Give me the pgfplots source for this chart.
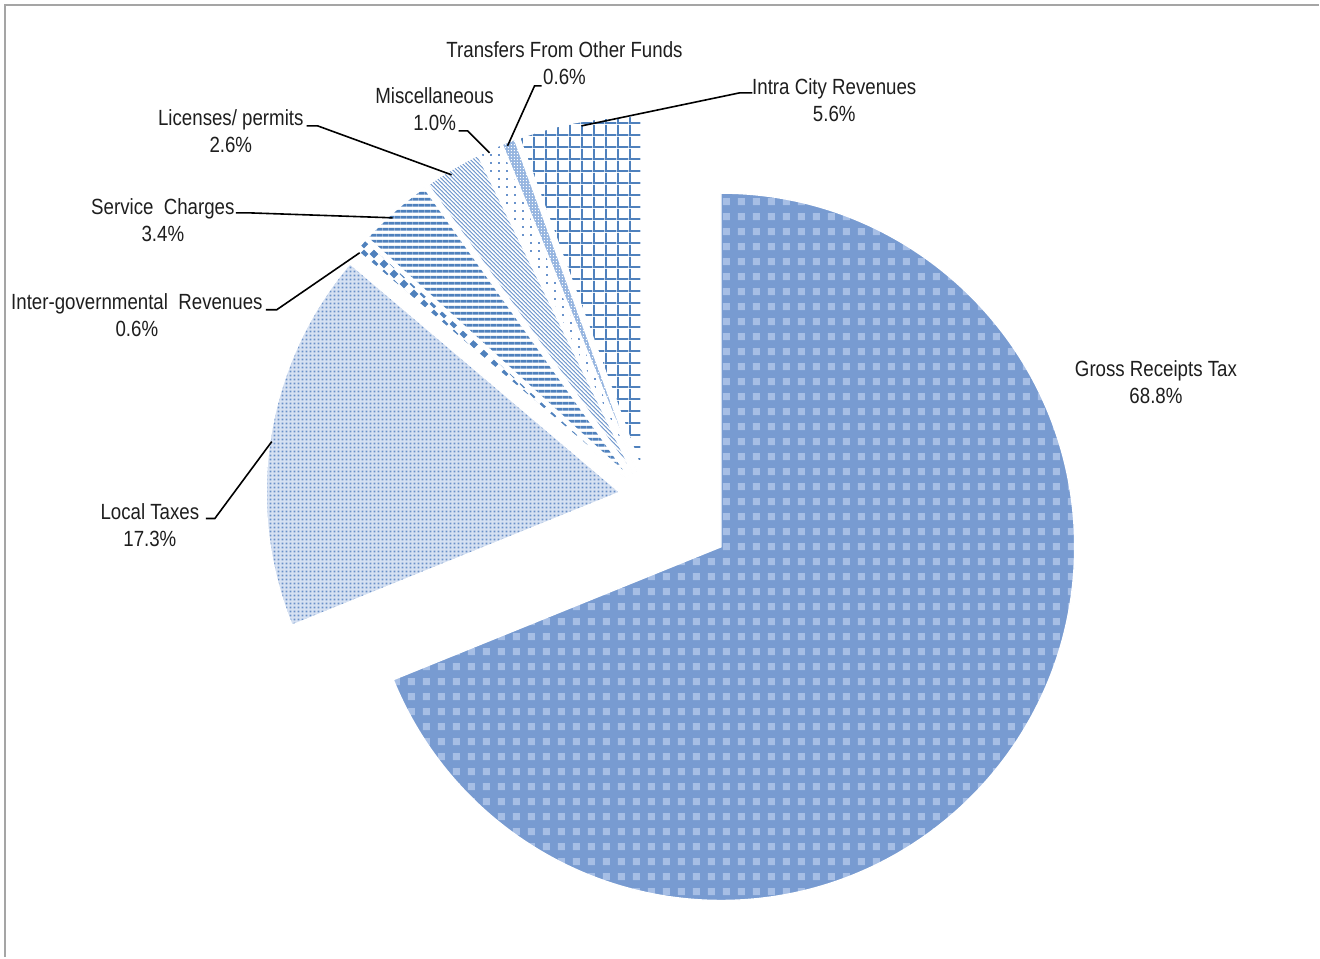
\documentclass[border=0pt]{standalone}
\usepackage{pgfplots}
\pgfplotsset{compat=1.18}
\usepackage{pgfplotstable}
\usepackage{fontspec}
\setmainfont{Liberation Sans}[FakeStretch=0.85]
\usetikzlibrary{patterns.meta}

\definecolor{xblue}{RGB}{79,129,189}
\definecolor{grossbg}{RGB}{120,155,209}
\definecolor{grosslt}{RGB}{166,190,229}
\definecolor{localbg}{RGB}{214,225,242}
\definecolor{localdot}{RGB}{105,144,200}
\definecolor{transbg}{RGB}{150,181,224}
\definecolor{licline}{RGB}{105,146,203}
\definecolor{txt}{RGB}{30,30,30}
\definecolor{frame}{RGB}{165,165,165}

\tikzdeclarepattern{name=grosssq, type=uncolored,
  bounding box={(0,0) and (7.5pt,7.5pt)}, tile size={(7.5pt,7.5pt)},
  code={\fill (2pt,2pt) rectangle (5.5pt,5.5pt);}}
\tikzdeclarepattern{name=localdots, type=uncolored,
  bounding box={(0,0) and (2.2pt,2.2pt)}, tile size={(2.2pt,2.2pt)},
  code={\fill (0.4pt,0.4pt) rectangle (1.4pt,1.4pt);}}
\tikzdeclarepattern{name=diamonds, type=uncolored,
  bounding box={(0,0) and (5pt,5pt)}, tile size={(5pt,5pt)},
  code={\fill (2.5pt,0.3pt) -- (4.7pt,2.5pt) -- (2.5pt,4.7pt) -- (0.3pt,2.5pt) -- cycle;}}
\tikzdeclarepattern{name=hstripes, type=uncolored,
  bounding box={(0,0) and (2.9pt,2.9pt)}, tile size={(2.9pt,2.9pt)},
  code={\fill (0,0.7pt) rectangle (2.9pt,2.1pt);}}
\tikzdeclarepattern{name=dlines, type=uncolored,
  bounding box={(0,0) and (2.2pt,2.2pt)}, tile size={(2.2pt,2.2pt)},
  code={\draw[line width=0.5pt] (-1.1pt,1.1pt) -- (1.1pt,-1.1pt)
        (0,2.2pt) -- (2.2pt,0) (1.1pt,3.3pt) -- (3.3pt,1.1pt);}}
\tikzdeclarepattern{name=sparsedots, type=uncolored,
  bounding box={(0,0) and (4pt,4pt)}, tile size={(4pt,4pt)},
  code={\fill (1.6pt,1.6pt) rectangle (2.4pt,2.4pt);}}
\tikzdeclarepattern{name=finedots, type=uncolored,
  bounding box={(0,0) and (1.6pt,1.6pt)}, tile size={(1.6pt,1.6pt)},
  code={\fill (0.5pt,0.5pt) rectangle (1.1pt,1.1pt);}}
\tikzdeclarepattern{name=sqgrid, type=uncolored,
  bounding box={(0,0) and (5.8pt,5.8pt)}, tile size={(5.8pt,5.8pt)},
  code={\fill (0,0) rectangle (5.8pt,1pt); \fill (0,0) rectangle (1pt,5.8pt);}}

\tikzset{
  wedge/.style={draw=white, line width=0.7pt},
  gross/.style={wedge, preaction={fill=grossbg}, pattern=grosssq, pattern color=grosslt},
  local/.style={wedge, preaction={fill=localbg}, pattern=localdots, pattern color=localdot},
  inter/.style={wedge, preaction={fill=white}, pattern=diamonds, pattern color=xblue},
  service/.style={wedge, preaction={fill=white}, pattern=hstripes, pattern color=xblue},
  lic/.style={wedge, preaction={fill=white}, pattern=dlines, pattern color=licline},
  misc/.style={wedge, preaction={fill=white}, pattern=sparsedots, pattern color=licline},
  transf/.style={wedge, preaction={fill=transbg}, pattern=finedots, pattern color=white},
  intra/.style={wedge, preaction={fill=white}, pattern=sqgrid, pattern color=xblue},
  lbl/.style={align=center, text=txt, font=\fontsize{11pt}{13.5pt}\selectfont, inner sep=0pt},
  lead/.style={black, line width=0.8pt}
}

% value (percent), explosion (pt)
\pgfplotstableread{
value explode
68.8 45
17.3 13.5
0.6 13.5
3.4 13.5
2.6 13.5
1.0 13.5
0.6 13.5
5.6 13.5
}\piedata

\begin{document}
\begin{tikzpicture}
\begin{axis}[
  width=660pt, height=479pt, scale only axis,
  xmin=0, xmax=1320, ymin=0, ymax=958, y dir=reverse,
  hide axis, clip=false]
\pgfplotsextra{
  \path (axis cs:0,0) rectangle (axis cs:1320,958);
  \xdef\tot{0}
  \foreach \i in {0,...,7}{
    \pgfplotstablegetelem{\i}{value}\of\piedata
    \pgfmathsetmacro{\tmp}{\tot+\pgfplotsretval}\xdef\tot{\tmp}
  }
  \xdef\cum{0}
  \foreach \i/\sty in {0/gross,1/local,2/inter,3/service,4/lic,5/misc,6/transf,7/intra}{
    \pgfplotstablegetelem{\i}{value}\of\piedata \let\val\pgfplotsretval
    \pgfplotstablegetelem{\i}{explode}\of\piedata \let\ex\pgfplotsretval
    \pgfmathsetmacro{\aS}{90-360*(\cum/\tot)}
    \pgfmathsetmacro{\aE}{90-360*((\cum+\val)/\tot)}
    \pgfmathsetmacro{\aM}{(\aS+\aE)/2}
    \path[\sty] ([shift={(\aM:\ex pt)}]axis cs:647,497) -- ++(\aS:177pt)
      arc[start angle=\aS, end angle=\aE, radius=177pt] -- cycle;
    \pgfmathsetmacro{\tmp}{\cum+\val}\xdef\cum{\tmp}
  }
  \draw[frame, line width=1.2pt] (axis cs:5,958) -- (axis cs:5,5) -- (axis cs:1320,5);
  % leader lines
  \draw[lead] (axis cs:753,93) -- (axis cs:740,93) -- (axis cs:582,126);
  \draw[lead] (axis cs:542,86) -- (axis cs:535,86) -- (axis cs:508,146);
  \draw[lead] (axis cs:459,131) -- (axis cs:468,131) -- (axis cs:490,153);
  \draw[lead] (axis cs:307,126) -- (axis cs:318,126) -- (axis cs:452,175);
  \draw[lead] (axis cs:236,213) -- (axis cs:248,213) -- (axis cs:393,218);
  \draw[lead] (axis cs:266,310) -- (axis cs:277,310) -- (axis cs:360,253);
  \draw[lead] (axis cs:206,519) -- (axis cs:215,519) -- (axis cs:272,442);
  % labels
  \node[lbl] at (axis cs:1157,382) {Gross Receipts Tax\\68.8\%};
  \node[lbl] at (axis cs:150,526) {Local Taxes\\17.3\%};
  \node[lbl] at (axis cs:137,315) {Inter-governmental~ Revenues\\0.6\%};
  \node[lbl] at (axis cs:163,220) {Service~ Charges\\3.4\%};
  \node[lbl] at (axis cs:231,131) {Licenses/ permits\\2.6\%};
  \node[lbl] at (axis cs:435,109) {Miscellaneous\\1.0\%};
  \node[lbl] at (axis cs:565,63) {Transfers From Other Funds\\0.6\%};
  \node[lbl] at (axis cs:835,100) {Intra City Revenues\\5.6\%};
}
\end{axis}
\end{tikzpicture}
\end{document}
